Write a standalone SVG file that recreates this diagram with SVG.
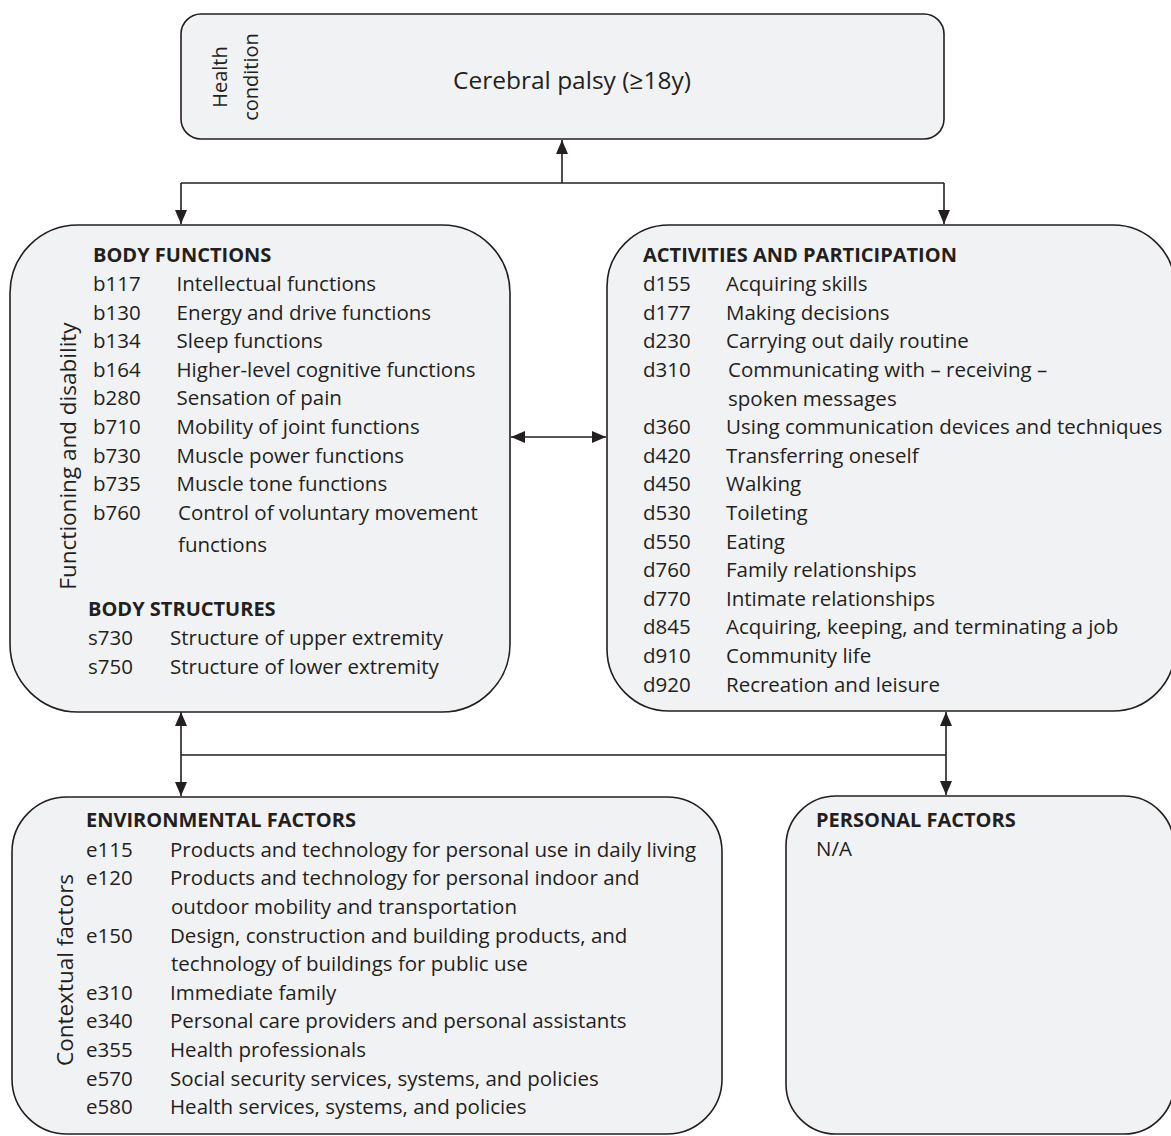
<svg xmlns="http://www.w3.org/2000/svg" width="1171" height="1136" viewBox="0 0 1171 1136">
<style>
.box{fill:#f1f2f4;stroke:#231f20;stroke-width:1.6}
.t{font-family:"Open Sans","DejaVu Sans",sans-serif;font-size:20.5px;fill:#231f20}
.h{font-family:"Open Sans","DejaVu Sans",sans-serif;font-size:20px;font-weight:bold;fill:#231f20}
.side{font-family:"Open Sans","DejaVu Sans",sans-serif;font-size:22.5px;fill:#231f20;text-anchor:middle}
.hc{font-family:"Open Sans","DejaVu Sans",sans-serif;font-size:20px;fill:#231f20;text-anchor:middle}
.title{font-family:"Open Sans","DejaVu Sans",sans-serif;font-size:24.5px;fill:#231f20;text-anchor:middle}
.c{fill:none;stroke:#231f20;stroke-width:1.6}
.ae{marker-end:url(#arr)}
.ab{marker-start:url(#arr);marker-end:url(#arr)}
</style>
<defs>
<marker id="arr" viewBox="0 0 14 12" refX="14" refY="6" markerWidth="14" markerHeight="12" markerUnits="userSpaceOnUse" orient="auto-start-reverse">
<path d="M0,0 L14,6 L0,12 z" fill="#231f20"/>
</marker>
</defs>
<rect width="1171" height="1136" fill="#ffffff"/>

<g id="connectors">
<path class="c ae" d="M562,183 V140"/>
<path class="c" d="M181,183 H944"/>
<path class="c ae" d="M181,183 V224"/>
<path class="c ae" d="M944,183 V224"/>
<path class="c ab" d="M511,437 H606"/>
<path class="c ab" d="M181,712 V796"/>
<path class="c" d="M181,755 H946"/>
<path class="c ab" d="M946,712 V795"/>
</g>

<g id="health-condition">
<rect class="box" x="181" y="14" width="763" height="125" rx="20"/>
<text class="hc" transform="translate(227,77) rotate(-90)">Health</text>
<text class="hc" transform="translate(258,77) rotate(-90)">condition</text>
<text class="title" x="572" y="89">Cerebral palsy (≥18y)</text>
</g>

<g id="body-functions">
<rect class="box" x="10" y="225" width="500" height="487" rx="68"/>
<text class="side" transform="translate(76,456) rotate(-90)">Functioning and disability</text>
<text class="h" x="93" y="262">BODY FUNCTIONS</text>
<text class="t" x="93" y="291">b117</text><text class="t" x="176.5" y="291">Intellectual functions</text>
<text class="t" x="93" y="319.6">b130</text><text class="t" x="176.5" y="319.6">Energy and drive functions</text>
<text class="t" x="93" y="348.2">b134</text><text class="t" x="176.5" y="348.2">Sleep functions</text>
<text class="t" x="93" y="376.8">b164</text><text class="t" x="176.5" y="376.8">Higher-level cognitive functions</text>
<text class="t" x="93" y="405.4">b280</text><text class="t" x="176.5" y="405.4">Sensation of pain</text>
<text class="t" x="93" y="434">b710</text><text class="t" x="176.5" y="434">Mobility of joint functions</text>
<text class="t" x="93" y="462.6">b730</text><text class="t" x="176.5" y="462.6">Muscle power functions</text>
<text class="t" x="93" y="491.2">b735</text><text class="t" x="176.5" y="491.2">Muscle tone functions</text>
<text class="t" x="93" y="519.8">b760</text><text class="t" x="178" y="519.8">Control of voluntary movement</text>
<text class="t" x="178" y="551.7">functions</text>
<text class="h" x="88" y="616">BODY STRUCTURES</text>
<text class="t" x="88" y="645">s730</text><text class="t" x="170" y="645">Structure of upper extremity</text>
<text class="t" x="88" y="673.5">s750</text><text class="t" x="170" y="673.5">Structure of lower extremity</text>
</g>

<g id="activities-participation">
<rect class="box" x="607" y="225" width="568" height="486" rx="62"/>
<text class="h" x="643" y="262">ACTIVITIES AND PARTICIPATION</text>
<text class="t" x="643" y="291">d155</text><text class="t" x="726" y="291">Acquiring skills</text>
<text class="t" x="643" y="319.6">d177</text><text class="t" x="726" y="319.6">Making decisions</text>
<text class="t" x="643" y="348.2">d230</text><text class="t" x="726" y="348.2">Carrying out daily routine</text>
<text class="t" x="643" y="376.9">d310</text><text class="t" x="728" y="376.9">Communicating with – receiving –</text>
<text class="t" x="728" y="405.5">spoken messages</text>
<text class="t" x="643" y="434.1">d360</text><text class="t" x="726" y="434.1">Using communication devices and techniques</text>
<text class="t" x="643" y="462.7">d420</text><text class="t" x="726" y="462.7">Transferring oneself</text>
<text class="t" x="643" y="491.3">d450</text><text class="t" x="726" y="491.3">Walking</text>
<text class="t" x="643" y="520">d530</text><text class="t" x="726" y="520">Toileting</text>
<text class="t" x="643" y="548.6">d550</text><text class="t" x="726" y="548.6">Eating</text>
<text class="t" x="643" y="577.2">d760</text><text class="t" x="726" y="577.2">Family relationships</text>
<text class="t" x="643" y="605.8">d770</text><text class="t" x="726" y="605.8">Intimate relationships</text>
<text class="t" x="643" y="634.4">d845</text><text class="t" x="726" y="634.4">Acquiring, keeping, and terminating a job</text>
<text class="t" x="643" y="663.1">d910</text><text class="t" x="726" y="663.1">Community life</text>
<text class="t" x="643" y="691.7">d920</text><text class="t" x="726" y="691.7">Recreation and leisure</text>
</g>

<g id="environmental-factors">
<rect class="box" x="12" y="797" width="710" height="337" rx="55"/>
<text class="side" transform="translate(73,970) rotate(-90)">Contextual factors</text>
<text class="h" x="86" y="827.3">ENVIRONMENTAL FACTORS</text>
<text class="t" x="86" y="856.7">e115</text><text class="t" x="170" y="856.7">Products and technology for personal use in daily living</text>
<text class="t" x="86" y="885.3">e120</text><text class="t" x="170" y="885.3">Products and technology for personal indoor and</text>
<text class="t" x="171" y="913.9">outdoor mobility and transportation</text>
<text class="t" x="86" y="942.5">e150</text><text class="t" x="170" y="942.5">Design, construction and building products, and</text>
<text class="t" x="171" y="971.1">technology of buildings for public use</text>
<text class="t" x="86" y="999.7">e310</text><text class="t" x="170" y="999.7">Immediate family</text>
<text class="t" x="86" y="1028.3">e340</text><text class="t" x="170" y="1028.3">Personal care providers and personal assistants</text>
<text class="t" x="86" y="1056.9">e355</text><text class="t" x="170" y="1056.9">Health professionals</text>
<text class="t" x="86" y="1085.5">e570</text><text class="t" x="170" y="1085.5">Social security services, systems, and policies</text>
<text class="t" x="86" y="1114.1">e580</text><text class="t" x="170" y="1114.1">Health services, systems, and policies</text>
</g>

<g id="personal-factors">
<rect class="box" x="786" y="796" width="388" height="338" rx="50"/>
<text class="h" x="816" y="827.3">PERSONAL FACTORS</text>
<text class="t" x="816" y="855.7">N/A</text>
</g>
</svg>
